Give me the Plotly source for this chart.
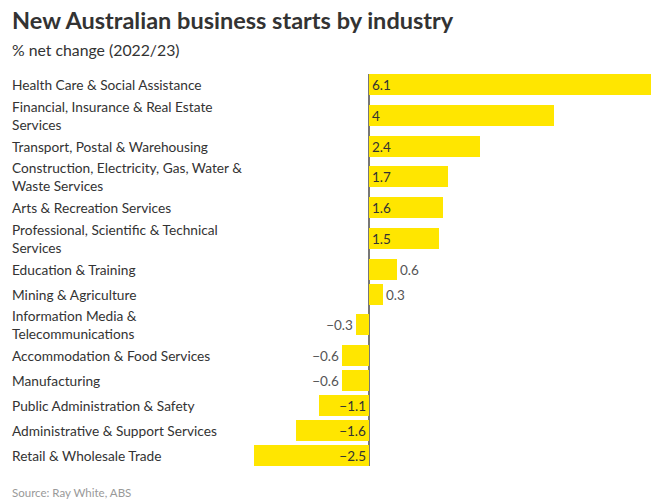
import plotly.graph_objects as go

# ---- data ----
categories = [
    "Health Care & Social Assistance",
    "Financial, Insurance & Real Estate<br>Services",
    "Transport, Postal & Warehousing",
    "Construction, Electricity, Gas, Water &<br>Waste Services",
    "Arts & Recreation Services",
    "Professional, Scientific & Technical<br>Services",
    "Education & Training",
    "Mining & Agriculture",
    "Information Media &<br>Telecommunications",
    "Accommodation & Food Services",
    "Manufacturing",
    "Public Administration & Safety",
    "Administrative & Support Services",
    "Retail & Wholesale Trade",
]
values = [6.1, 4, 2.4, 1.7, 1.6, 1.5, 0.6, 0.3, -0.3, -0.6, -0.6, -1.1, -1.6, -2.5]

title = "New Australian business starts by industry"
subtitle = "% net change (2022/23)"
source = "Source: Ray White, ABS"

# ---- layout helpers (row heights depend on label line count) ----
FONT = "Lato"
W, H = 663, 501
SINGLE, DOUBLE = 25, 36.5
BAR_H = 21
row_h = [DOUBLE if "<br>" in c else SINGLE for c in categories]
centers = []
acc = 0
for h in row_h:
    centers.append(acc + h / 2)
    acc += h
y_top = centers[0] - BAR_H / 2
y_bot = centers[-1] + BAR_H / 2
span = y_bot - y_top

M_L, M_R, M_T = 254, 12, 74
M_B = H - M_T - span

texts = [f"{v:g}".replace("-", "\u2212") for v in values]
positions = ["inside" if abs(v) >= 1 else "outside" for v in values]

fig = go.Figure(go.Bar(
    x=values, y=centers, orientation="h", width=BAR_H,
    marker=dict(color="#FFE600", line=dict(width=0)),
    text=texts, textposition=positions, insidetextanchor="start",
    textangle=0, constraintext="none", cliponaxis=False,
    insidetextfont=dict(family=FONT, size=13.5, color="#333333"),
    outsidetextfont=dict(family=FONT, size=13.5, color="#555555"),
    hoverinfo="skip",
))

plot_w = W - M_L - M_R
plot_h = H - M_T - M_B
LX = (10 - M_L) / plot_w
annotations = []
for c, y in zip(categories, centers):
    annotations.append(dict(
        text=c, x=LX, xref="paper", y=y, yref="y",
        xanchor="left", yanchor="middle", align="left", showarrow=False,
        font=dict(family=FONT, size=13.7, color="#333333"),
    ))
annotations.append(dict(
    text=title, x=LX, xref="paper", y=(H - 20 - M_B) / plot_h,
    yref="paper", xanchor="left", yanchor="middle", showarrow=False,
    font=dict(family=FONT, size=23.5, color="#333333", weight=700),
))
annotations.append(dict(
    text=subtitle, x=LX, xref="paper", y=(H - 49 - M_B) / plot_h,
    yref="paper", xanchor="left", yanchor="middle", showarrow=False,
    font=dict(family=FONT, size=15.8, color="#333333"),
))
annotations.append(dict(
    text=source, x=LX, xref="paper", y=(H - 493 - M_B) / plot_h,
    yref="paper", xanchor="left", yanchor="middle", showarrow=False,
    font=dict(family=FONT, size=11.5, color="#999999"),
))

fig.update_layout(
    width=W, height=H, margin=dict(l=M_L, r=M_R, t=M_T, b=M_B),
    paper_bgcolor="white", plot_bgcolor="white", showlegend=False,
    xaxis=dict(range=[min(values), max(values)], showgrid=False, showticklabels=False,
               zeroline=True, zerolinecolor="#777777", zerolinewidth=1.5, fixedrange=True),
    yaxis=dict(range=[y_bot, y_top], showgrid=False, showticklabels=False,
               zeroline=False, fixedrange=True),
    annotations=annotations,
    bargap=0,
)

fig.write_html("out.html", config={"displayModeBar": False},
               post_script="document.body.style.margin='0';document.body.style.overflow='hidden';")
